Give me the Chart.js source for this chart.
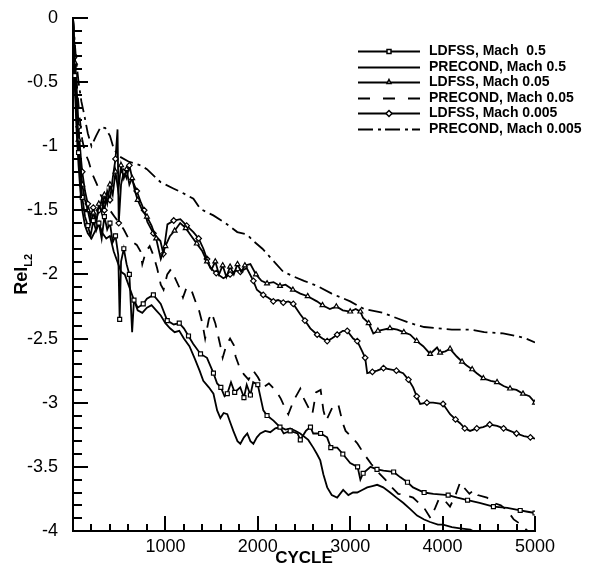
<!DOCTYPE html>
<html>
<head>
<meta charset="utf-8">
<script src="https://cdn.jsdelivr.net/npm/chart.js@4.4.0/dist/chart.umd.min.js"></script>
<style>
  html, body { margin: 0; padding: 0; background: #fff; }
</style>
</head>
<body>
<canvas id="myChart" width="593" height="572"></canvas>
<script>
// LDFSS, Mach 0.5 (squares)
var ldfss05Cycle = [0,20,40,60,80,100,130,160,190,220,250,280,310,340,370,400,430,460,490,505,520,550,580,610,640,660,700,760,800,870,950,1020,1090,1150,1200,1250,1300,1380,1450,1520,1560,1600,1640,1670,1710,1750,1810,1850,1880,1920,1950,2000,2060,2100,2170,2240,2280,2350,2430,2460,2520,2570,2600,2680,2750,2790,2860,2920,3000,3080,3110,3140,3220,3290,3360,3470,3540,3620,3680,3800,3900,4060,4160,4270,4400,4550,4700,4840,4920,5000];
var ldfss05Res = [0,-0.45,-0.8,-1.05,-1.25,-1.4,-1.55,-1.62,-1.7,-1.58,-1.66,-1.6,-1.72,-1.55,-1.65,-1.6,-1.75,-1.7,-1.85,-2.35,-1.9,-1.8,-1.92,-2.0,-2.45,-2.2,-2.26,-2.23,-2.19,-2.16,-2.23,-2.36,-2.39,-2.38,-2.42,-2.48,-2.54,-2.62,-2.65,-2.77,-2.85,-2.88,-2.95,-2.93,-2.84,-2.92,-2.88,-2.96,-2.86,-2.94,-2.84,-2.86,-3.06,-3.1,-3.14,-3.19,-3.24,-3.22,-3.24,-3.29,-3.22,-3.19,-3.24,-3.24,-3.27,-3.35,-3.35,-3.4,-3.47,-3.5,-3.6,-3.55,-3.5,-3.52,-3.53,-3.54,-3.58,-3.62,-3.66,-3.7,-3.71,-3.72,-3.74,-3.76,-3.78,-3.81,-3.82,-3.84,-3.85,-3.86];

// PRECOND, Mach 0.5 (solid)
var precond05Cycle = [0,20,40,60,80,100,130,160,200,240,280,320,360,400,440,480,520,560,600,650,700,750,800,850,900,950,1000,1050,1100,1150,1200,1260,1320,1370,1410,1470,1520,1560,1595,1630,1670,1700,1735,1780,1811,1850,1886,1920,1952,1990,2027,2080,2135,2190,2243,2300,2351,2410,2459,2546,2600,2640,2676,2710,2751,2800,2859,2924,2980,3030,3076,3130,3184,3240,3292,3357,3432,3500,3573,3650,3724,3800,3865,3950,4005,4100,4189,4300,4380,4450];
var precond05Res = [0,-0.55,-0.9,-1.15,-1.35,-1.5,-1.62,-1.68,-1.72,-1.66,-1.6,-1.68,-1.72,-1.7,-1.82,-1.9,-1.98,-2.0,-2.08,-2.18,-2.28,-2.3,-2.26,-2.24,-2.28,-2.32,-2.38,-2.42,-2.45,-2.44,-2.5,-2.56,-2.66,-2.75,-2.83,-2.88,-2.93,-3.06,-3.12,-3.08,-3.09,-3.15,-3.22,-3.3,-3.32,-3.27,-3.24,-3.3,-3.32,-3.27,-3.24,-3.22,-3.23,-3.2,-3.19,-3.21,-3.2,-3.22,-3.24,-3.29,-3.35,-3.4,-3.45,-3.56,-3.66,-3.72,-3.74,-3.68,-3.72,-3.7,-3.7,-3.68,-3.66,-3.65,-3.64,-3.66,-3.7,-3.74,-3.78,-3.83,-3.88,-3.91,-3.93,-3.95,-3.95,-3.97,-3.98,-3.99,-4.02,-4.05];

// LDFSS, Mach 0.05 (triangles)
var ldfss005Cycle = [0,20,40,60,80,100,130,160,190,220,250,280,310,340,370,400,430,460,490,520,550,580,610,640,670,700,750,800,850,900,950,1000,1050,1100,1160,1220,1280,1340,1400,1450,1500,1540,1580,1620,1660,1700,1740,1780,1820,1860,1920,1980,2040,2100,2170,2240,2300,2380,2460,2540,2640,2700,2780,2850,2920,3000,3060,3110,3140,3200,3250,3300,3360,3430,3510,3580,3650,3720,3790,3865,3940,3973,4030,4081,4153,4210,4261,4320,4370,4441,4520,4589,4660,4730,4800,4870,4940,5000];
var ldfss005Res = [0,-0.35,-0.7,-0.95,-1.15,-1.3,-1.42,-1.5,-1.6,-1.52,-1.6,-1.45,-1.52,-1.38,-1.45,-1.3,-1.38,-1.2,-1.35,-1.15,-1.25,-1.18,-1.3,-1.25,-1.35,-1.42,-1.5,-1.55,-1.62,-1.72,-1.88,-1.78,-1.7,-1.66,-1.6,-1.64,-1.7,-1.76,-1.82,-1.9,-1.96,-1.9,-2.0,-1.93,-2.02,-1.94,-2.0,-1.92,-1.98,-1.93,-1.92,-2.0,-2.05,-2.07,-2.06,-2.09,-2.08,-2.12,-2.15,-2.17,-2.21,-2.24,-2.27,-2.25,-2.28,-2.29,-2.27,-2.29,-2.34,-2.38,-2.46,-2.44,-2.43,-2.42,-2.43,-2.45,-2.47,-2.52,-2.56,-2.62,-2.57,-2.61,-2.6,-2.58,-2.64,-2.68,-2.71,-2.74,-2.77,-2.81,-2.83,-2.84,-2.87,-2.89,-2.9,-2.93,-2.95,-3.0];

// PRECOND, Mach 0.05 (dashed)
var precond005Cycle = [0,25,50,75,100,130,170,210,260,300,350,400,450,500,550,600,650,690,730,750,790,830,870,910,950,980,1020,1060,1100,1150,1190,1230,1280,1330,1360,1400,1430,1470,1500,1540,1590,1620,1660,1700,1740,1760,1800,1850,1900,1950,2000,2060,2120,2200,2250,2300,2330,2390,2460,2500,2550,2590,2630,2680,2710,2740,2805,2870,2920,2950,3020,3080,3150,3230,3300,3380,3450,3520,3600,3680,3740,3800,3870,3920,3960,4020,4080,4140,4190,4230,4290,4340,4380,4480,4550,4630,4700,4770,4850,4920];
var precond005Res = [0,-0.35,-0.6,-0.8,-0.95,-1.05,-1.12,-1.22,-1.3,-1.38,-1.45,-1.5,-1.55,-1.6,-1.65,-1.72,-1.75,-1.77,-1.82,-1.92,-1.82,-1.78,-1.85,-1.95,-2.08,-2.12,-2.0,-1.96,-2.02,-2.1,-2.18,-2.1,-2.12,-2.22,-2.27,-2.38,-2.5,-2.35,-2.3,-2.38,-2.54,-2.65,-2.55,-2.5,-2.55,-2.64,-2.72,-2.78,-2.82,-2.75,-2.8,-2.88,-2.85,-2.91,-2.97,-3.05,-3.09,-2.98,-2.89,-2.97,-3.04,-3.09,-2.92,-2.9,-3.06,-3.14,-3.04,-3.01,-3.16,-3.22,-3.27,-3.32,-3.4,-3.48,-3.54,-3.6,-3.66,-3.71,-3.72,-3.74,-3.78,-3.82,-3.9,-3.82,-3.75,-3.76,-3.81,-3.72,-3.62,-3.66,-3.71,-3.68,-3.72,-3.74,-3.78,-3.8,-3.84,-3.91,-3.95,-4.0];

// LDFSS, Mach 0.005 (diamonds)
var ldfss0005Cycle = [0,20,40,60,80,100,130,160,190,220,250,280,310,340,370,400,430,460,482,495,520,550,580,610,650,690,730,770,805,870,946,978,1022,1090,1162,1230,1303,1360,1411,1450,1486,1550,1627,1700,1760,1811,1880,1952,1990,2059,2110,2168,2220,2276,2330,2384,2459,2510,2568,2643,2700,2751,2800,2859,2920,2968,3032,3076,3130,3162,3184,3240,3292,3360,3432,3500,3573,3630,3681,3720,3757,3830,3897,4005,4081,4140,4189,4240,4297,4370,4438,4510,4589,4660,4730,4800,4880,4950,5000];
var ldfss0005Res = [0,-0.3,-0.55,-0.85,-1.05,-1.2,-1.35,-1.45,-1.55,-1.48,-1.58,-1.5,-1.42,-1.5,-1.35,-1.42,-1.25,-1.1,-0.87,-1.6,-1.3,-1.2,-1.25,-1.15,-1.28,-1.35,-1.43,-1.5,-1.59,-1.68,-1.74,-1.84,-1.61,-1.58,-1.57,-1.62,-1.67,-1.72,-1.8,-1.88,-1.95,-1.99,-2.03,-2.0,-1.97,-1.98,-1.95,-2.05,-2.12,-2.16,-2.18,-2.21,-2.2,-2.22,-2.21,-2.23,-2.31,-2.36,-2.42,-2.47,-2.5,-2.52,-2.5,-2.47,-2.44,-2.44,-2.5,-2.52,-2.6,-2.65,-2.77,-2.76,-2.75,-2.73,-2.74,-2.75,-2.77,-2.82,-2.88,-2.95,-3.01,-3.0,-3.0,-3.01,-3.09,-3.13,-3.16,-3.2,-3.22,-3.2,-3.19,-3.17,-3.18,-3.2,-3.22,-3.24,-3.26,-3.27,-3.28];

// PRECOND, Mach 0.005 (dash-dot)
var precond0005Cycle = [0,30,60,90,120,160,200,250,300,350,400,440,500,600,730,800,946,1086,1200,1303,1378,1519,1650,1778,1886,1952,2050,2150,2276,2400,2500,2643,2800,3000,3150,3357,3500,3649,3800,3938,4100,4297,4450,4654,4800,4900,5000];
var precond0005Res = [0,-0.3,-0.5,-0.65,-0.75,-0.9,-1.0,-0.92,-0.85,-0.86,-0.92,-1.02,-1.08,-1.12,-1.15,-1.18,-1.28,-1.33,-1.37,-1.41,-1.49,-1.54,-1.6,-1.67,-1.69,-1.74,-1.8,-1.88,-1.98,-2.02,-2.05,-2.09,-2.15,-2.21,-2.27,-2.3,-2.34,-2.38,-2.41,-2.42,-2.43,-2.43,-2.45,-2.46,-2.48,-2.5,-2.53];

var xTicks = [1000, 2000, 3000, 4000, 5000];
var yTicks = [0, -0.5, -1, -1.5, -2, -2.5, -3, -3.5, -4];

var fontFam = '"Liberation Sans", Arial, Helvetica, sans-serif';

function pts(cyc, res) {
  return cyc.map(function (c, i) { return {x: c, y: res[i]}; });
}

function markerEvery(ctx) {
  return ctx.dataIndex % 2 === 1 ? 2.8 : 0;
}

function series(label, cyc, res, style, dash) {
  return {
    label: label,
    data: pts(cyc, res),
    showLine: true,
    borderColor: '#000',
    borderWidth: 1.8,
    borderDash: dash || [],
    tension: 0,
    pointStyle: style || 'circle',
    pointRadius: style ? markerEvery : 0,
    pointHoverRadius: 0,
    pointBackgroundColor: '#fff',
    pointBorderColor: '#000',
    pointBorderWidth: 1.2,
    markerStyle: style || null
  };
}

// draws marker shapes for the legend
function marker(ctx, style, x, y, r) {
  ctx.beginPath();
  if (style === 'rect') {
    ctx.rect(x - r, y - r, 2 * r, 2 * r);
  } else if (style === 'triangle') {
    ctx.moveTo(x, y - r - 1); ctx.lineTo(x + r, y + r - 1); ctx.lineTo(x - r, y + r - 1); ctx.closePath();
  } else if (style === 'rectRot') {
    ctx.moveTo(x, y - r - 1); ctx.lineTo(x + r + 1, y); ctx.lineTo(x, y + r + 1); ctx.lineTo(x - r - 1, y); ctx.closePath();
  }
  ctx.fillStyle = '#fff'; ctx.fill();
  ctx.lineWidth = 1.5; ctx.strokeStyle = '#000'; ctx.stroke();
}

var legendBox = {
  id: 'legendBox',
  afterDraw: function (chart) {
    var ctx = chart.ctx;
    chart.data.datasets.forEach(function (ds, i) {
      var yy = Math.round(51 + i * 15.6) + 0.5;
      ctx.save();
      ctx.strokeStyle = '#000';
      ctx.lineWidth = 2;
      ctx.setLineDash(ds.legendDash || []);
      ctx.beginPath(); ctx.moveTo(358, yy); ctx.lineTo(420, yy); ctx.stroke();
      ctx.setLineDash([]);
      if (ds.markerStyle) marker(ctx, ds.markerStyle, 389, yy, 2);
      ctx.fillStyle = '#000';
      ctx.font = 'bold 14px ' + fontFam;
      ctx.textBaseline = 'middle';
      ctx.fillText(ds.label, 429, yy);
      ctx.restore();
    });
  }
};

var tickMarks = {
  id: 'tickMarks',
  afterDraw: function (chart) {
    var ctx = chart.ctx, a = chart.chartArea, xs = chart.scales.x, ys = chart.scales.y;
    ctx.save();
    ctx.strokeStyle = '#000';
    ctx.lineWidth = 2;
    ctx.beginPath();
    for (var i = 0; i <= 40; i++) {
      var py = Math.round(ys.getPixelForValue(-i / 10));
      ctx.moveTo(a.left, py); ctx.lineTo(a.left + (i % 5 === 0 ? 15 : 9), py);
    }
    for (var j = 1; j <= 25; j++) {
      var px = Math.round(xs.getPixelForValue(j * 200));
      ctx.moveTo(px, a.bottom); ctx.lineTo(px, a.bottom - (j % 5 === 0 ? 15 : 7));
    }
    ctx.stroke();
    ctx.restore();
  }
};

var yTitle = {
  id: 'yTitle',
  afterDraw: function (chart) {
    var ctx = chart.ctx;
    var midY = (chart.chartArea.top + chart.chartArea.bottom) / 2;
    ctx.save();
    ctx.translate(27, midY);
    ctx.rotate(-Math.PI / 2);
    ctx.fillStyle = '#000';
    ctx.font = 'bold 18px ' + fontFam;
    var w1 = ctx.measureText('Rel').width;
    ctx.font = 'bold 11px ' + fontFam;
    var w2 = ctx.measureText('L2').width;
    var start = -(w1 + w2) / 2;
    ctx.font = 'bold 18px ' + fontFam;
    ctx.fillText('Rel', start, 0);
    ctx.font = 'bold 11px ' + fontFam;
    ctx.fillText('L2', start + w1, 5);
    ctx.restore();
  }
};

var datasets = [
  series('LDFSS, Mach  0.5', ldfss05Cycle, ldfss05Res, 'rect'),
  series('PRECOND, Mach 0.5', precond05Cycle, precond05Res, null),
  series('LDFSS, Mach 0.05', ldfss005Cycle, ldfss005Res, 'triangle'),
  series('PRECOND, Mach 0.05', precond005Cycle, precond005Res, null, [11, 9]),
  series('LDFSS, Mach 0.005', ldfss0005Cycle, ldfss0005Res, 'rectRot'),
  series('PRECOND, Mach 0.005', precond0005Cycle, precond0005Res, null, [14, 5, 3, 5])
];
datasets[3].legendDash = [12, 13];
datasets[5].legendDash = [15, 5, 3, 4];

var ctx = document.getElementById('myChart').getContext('2d');
var myChart = new Chart(ctx, {
  type: 'scatter',
  data: { datasets: datasets },
  options: {
    responsive: false,
    animation: false,
    layout: { padding: { top: 15, right: 58, left: 0, bottom: 0 } },
    plugins: {
      legend: { display: false },
      tooltip: { enabled: false }
    },
    scales: {
      x: {
        type: 'linear',
        min: 0,
        max: 5000,
        afterFit: function (s) { s.height = 41; },
        afterBuildTicks: function (s) { s.ticks = [{value: 0}].concat(xTicks.map(function (v) { return {value: v}; })); },
        border: { display: true, color: '#000', width: 2 },
        grid: { display: false },
        ticks: {
          padding: -3,
          color: '#000',
          maxRotation: 0,
          autoSkip: false,
          font: { family: fontFam, size: 18 },
          callback: function (v) { return v === 0 ? '' : String(v); }
        },
        title: {
          display: true,
          text: 'CYCLE',
          color: '#000',
          font: { family: fontFam, size: 17, weight: 'bold' },
          padding: { top: 0, bottom: 3 }
        }
      },
      y: {
        type: 'linear',
        min: -4,
        max: 0,
        afterFit: function (s) { s.width = 73; },
        afterBuildTicks: function (s) { s.ticks = yTicks.map(function (v) { return {value: v}; }); },
        border: { display: true, color: '#000', width: 2 },
        grid: { display: false },
        ticks: {
          padding: 7,
          color: '#000',
          font: { family: fontFam, size: 18 },
          callback: function (v) { return String(v); }
        }
      }
    }
  },
  plugins: [tickMarks, legendBox, yTitle]
});
</script>
</body>
</html>
